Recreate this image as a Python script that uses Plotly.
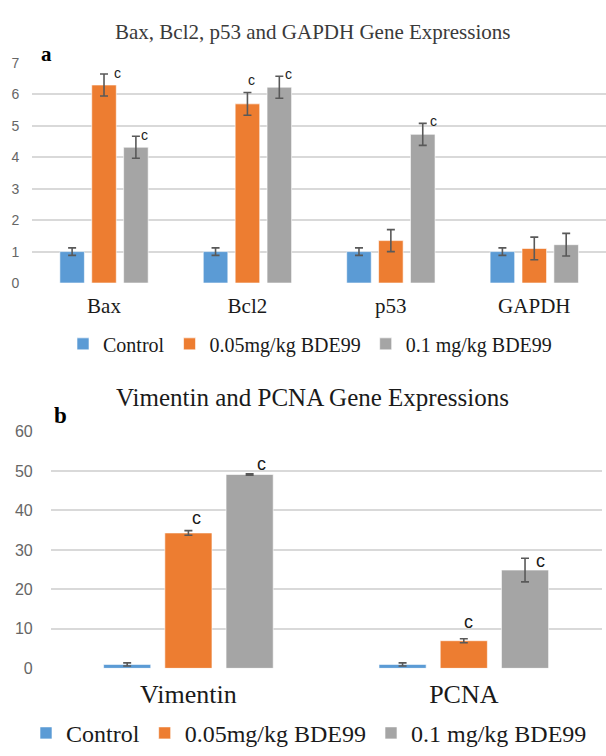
import plotly.graph_objects as go

# ---------------- data ----------------
genes_a = ["Bax", "Bcl2", "p53", "GAPDH"]
ctrl_a = [1.0, 1.0, 1.0, 1.0]
ctrl_a_err = [0.12, 0.12, 0.12, 0.12]
low_a = [6.3, 5.7, 1.35, 1.1]
low_a_err = [0.35, 0.36, 0.35, 0.36]
high_a = [4.32, 6.23, 4.73, 1.22]
high_a_err = [0.35, 0.35, 0.35, 0.36]
low_a_sig = ["c", "c", "", ""]
high_a_sig = ["c", "c", "c", ""]
yticks_a = [0, 1, 2, 3, 4, 5, 6, 7]

genes_b = ["Vimentin", "PCNA"]
ctrl_b = [1.0, 1.0]
ctrl_b_err = [0.4, 0.4]
low_b = [34.3, 7.0]
low_b_err = [0.6, 0.5]
high_b = [49.1, 24.9]
high_b_err = [0.2, 3.0]
low_b_sig = ["c", "c"]
high_b_sig = ["c", "c"]
yticks_b = [0, 10, 20, 30, 40, 50, 60]

series_names = ["Control", "0.05mg/kg BDE99", "0.1 mg/kg BDE99"]
title_a = "Bax, Bcl2, p53 and GAPDH Gene Expressions"
title_b = "Vimentin and PCNA Gene Expressions"

# ---------------- style ----------------
colors = ["#5B9BD5", "#ED7D31", "#A5A5A5"]
SERIF = "Liberation Serif"
SANS = "Liberation Sans"
BARGAP = 0.333
BARGROUPGAP = 0.23
GRID = "#d9d9d9"
ERRC = "#595959"
W, H = 606, 756

# pixel shifts (dx, dy) for significance letters relative to error-bar top
shift_a_low = [(13, 1), (4, 13), (0, 0), (0, 0)]
shift_a_high = [(9, 1), (9, 2), (11, 2), (0, 0)]
shift_b_low = [(8, 13), (5, 17)]
shift_b_high = [(12, 10), (15, -3)]

fig = go.Figure()

def serif_name(s):
    return "<span style='font-family:\"Liberation Serif\", serif'>" + s + "</span>"

def add_series(cats, vals, errs, idx, xa, ya, leg, ew):
    fig.add_trace(go.Bar(
        x=cats, y=vals, name=serif_name(series_names[idx]),
        marker=dict(color=colors[idx], line=dict(color="white", width=0.6)),
        error_y=dict(type="data", array=errs, color=ERRC, thickness=1.6, width=ew),
        xaxis=xa, yaxis=ya, legend=leg, showlegend=True, hoverinfo="skip",
    ))

for i, (v, e) in enumerate([(ctrl_a, ctrl_a_err), (low_a, low_a_err), (high_a, high_a_err)]):
    add_series(genes_a, v, e, i, "x", "y", "legend", 4)
for i, (v, e) in enumerate([(ctrl_b, ctrl_b_err), (low_b, low_b_err), (high_b, high_b_err)]):
    add_series(genes_b, v, e, i, "x2", "y2", "legend2", 4)

slot = (1 - BARGAP) / 3
annotations = []

def add_sig(sigs, vals, errs, j, shifts, xref, yref, size):
    for i, s in enumerate(sigs):
        if not s:
            continue
        annotations.append(dict(
            x=i + (j - 1) * slot, y=vals[i] + errs[i], xref=xref, yref=yref,
            text=s, showarrow=False, xanchor="center", yanchor="middle",
            xshift=shifts[i][0], yshift=shifts[i][1],
            font=dict(family=SANS, size=size, color="#1a1a1a"),
        ))

add_sig(low_a_sig, low_a, low_a_err, 1, shift_a_low, "x", "y", 14)
add_sig(high_a_sig, high_a, high_a_err, 2, shift_a_high, "x", "y", 14)
add_sig(low_b_sig, low_b, low_b_err, 1, shift_b_low, "x2", "y2", 18)
add_sig(high_b_sig, high_b, high_b_err, 2, shift_b_high, "x2", "y2", 18)

# titles
annotations.append(dict(text=title_a, x=312.5 / W, y=1 - 25 / H, xref="paper", yref="paper",
                        showarrow=False, xanchor="center", yanchor="middle",
                        font=dict(family=SERIF, size=21, color="#3a3a3a")))
annotations.append(dict(text=title_b, x=312 / W, y=1 - 400 / H, xref="paper", yref="paper",
                        showarrow=False, xanchor="center", yanchor="middle",
                        font=dict(family=SERIF, size=25, color="#1a1a1a")))
# panel letters (white text boxes)
annotations.append(dict(text="<b>a</b>", x=32 / W, y=1 - 47 / H, xref="paper", yref="paper",
                        showarrow=False, xanchor="left", yanchor="middle", align="left",
                        width=26, height=24, borderpad=8, bgcolor="white",
                        font=dict(family=SERIF, size=21, color="black")))
annotations.append(dict(text="<b>b</b>", x=50 / W, y=1 - 418 / H, xref="paper", yref="paper",
                        showarrow=False, xanchor="left", yanchor="middle", align="left",
                        width=30, height=40, borderpad=3, bgcolor="white",
                        font=dict(family=SERIF, size=23, color="black")))

fig.update_layout(
    width=W, height=H, margin=dict(l=0, r=0, t=0, b=0),
    paper_bgcolor="white", plot_bgcolor="white",
    font=dict(family=SERIF, color="#1a1a1a"),
    barmode="group", bargap=BARGAP, bargroupgap=BARGROUPGAP,
    annotations=annotations,
    xaxis=dict(domain=[32.3 / W, 1.0], anchor="y", showgrid=False, showline=False, ticks="",
               tickfont=dict(family=SERIF, size=21, color="#1a1a1a"), ticklabelstandoff=8),
    yaxis=dict(domain=[1 - 282.5 / H, 1 - 56.5 / H], anchor="x", range=[0, 7],
               tickvals=yticks_a, showgrid=True, gridcolor=GRID, gridwidth=1.5,
               zeroline=False, showline=False, ticks="",
               tickfont=dict(family=SANS, size=14, color="#666666"), ticklabelstandoff=12),
    xaxis2=dict(domain=[50.7 / W, 601.5 / W], anchor="y2", showgrid=False, showline=False, ticks="",
                tickfont=dict(family=SERIF, size=26, color="#1a1a1a"), ticklabelstandoff=8),
    yaxis2=dict(domain=[1 - 678.3 / H, 1 - 435 / H], anchor="x2", range=[0, 60],
                tickvals=yticks_b, showgrid=True, gridcolor=GRID, gridwidth=1.5,
                zeroline=False, showline=False, ticks="",
                tickfont=dict(family=SANS, size=16, color="#666666"), ticklabelstandoff=17),
    legend=dict(orientation="h", x=310 / W, xanchor="center", y=1 - 345 / H, yanchor="middle",
                font=dict(family=SERIF, size=20, color="#1a1a1a"), bgcolor="rgba(0,0,0,0)",
                traceorder="normal"),
    legend2=dict(orientation="h", x=309 / W, xanchor="center", y=1 - 745 / H, yanchor="middle",
                 font=dict(family=SERIF, size=24, color="#1a1a1a"), bgcolor="rgba(0,0,0,0)",
                 traceorder="normal"),
)

fig.write_html("out.html", config={"displayModeBar": False},
               post_script="document.body.style.margin='0px';")
